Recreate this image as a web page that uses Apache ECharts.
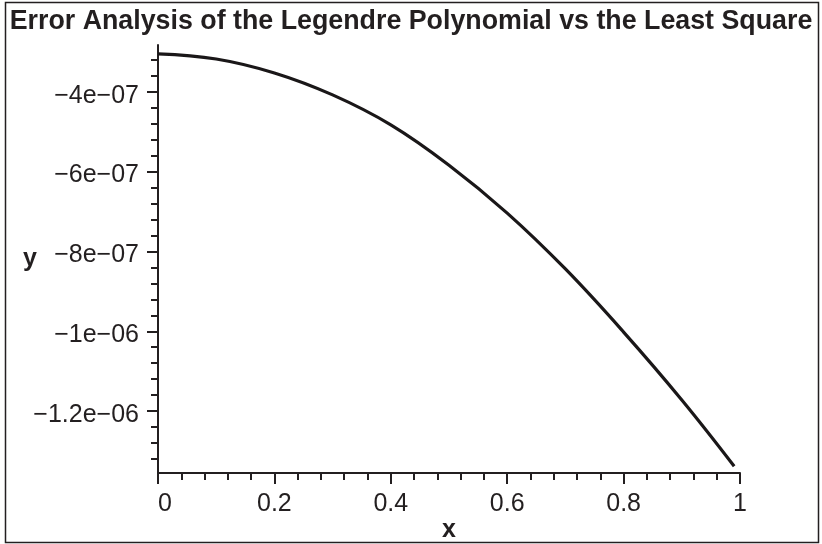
<!DOCTYPE html>
<html>
<head>
<meta charset="utf-8">
<title>Error Analysis of the Legendre Polynomial vs the Least Square</title>
<script src="https://cdn.jsdelivr.net/npm/echarts@6/dist/echarts.min.js"></script>
<style>
  html, body { margin: 0; padding: 0; background: #fff; }
  #chart { width: 822px; height: 544px; }
</style>
</head>
<body>
<div id="chart"></div>
<script>
// Error curve sampled over [0, 0.99]
const xValues = [0, 0.1, 0.2, 0.3, 0.4, 0.5, 0.6, 0.7, 0.8, 0.9, 0.99];
const errValues = [-3.05e-7, -3.18e-7, -3.53e-7, -4.08e-7, -4.83e-7, -5.84e-7,
                   -7.04e-7, -8.44e-7, -1.002e-6, -1.172e-6, -1.338e-6];

// Labelled y ticks and their printed form
const yTickValues = [-4e-7, -6e-7, -8e-7, -1e-6, -1.2e-6];
const yTickLabels = ['\u22124e\u221207', '\u22126e\u221207', '\u22128e\u221207', '\u22121e\u221206', '\u22121.2e\u221206'];
const xTickLabels = ['0', '0.2', '0.4', '0.6', '0.8', '1'];

const titleText = 'Error Analysis of the Legendre Polynomial vs the Least Square';

const ink = '#231f20';
const font = 'Liberation Sans, Arial, Helvetica, sans-serif';

const chart = echarts.init(document.getElementById('chart'), null, { renderer: 'canvas' });

chart.setOption({
  backgroundColor: '#fff',
  animation: false,
  title: {
    text: titleText,
    left: 'center',
    top: 3,
    textStyle: { fontFamily: font, fontWeight: 'bold', fontSize: 26.8, color: ink }
  },
  graphic: [{
    type: 'rect',
    silent: true,
    shape: { x: 5.5, y: 2.5, width: 813, height: 540 },
    style: { fill: null, stroke: ink, lineWidth: 1.5 }
  }],
  grid: { left: 158, right: 82, top: 45, bottom: 71, containLabel: false, outerBoundsMode: 'none' },
  xAxis: {
    type: 'value',
    min: 0,
    max: 1,
    interval: 0.2,
    name: 'x',
    nameLocation: 'middle',
    nameGap: 45,
    nameMoveOverlap: false,
    nameTextStyle: { fontFamily: font, fontWeight: 'bold', fontSize: 25, color: ink },
    axisLine: { onZero: false, lineStyle: { color: ink, width: 2 } },
    axisTick: { show: true, inside: false, length: 11, lineStyle: { color: ink, width: 2 } },
    minorTick: { show: true, splitNumber: 5, length: 7, lineStyle: { color: ink, width: 2 } },
    splitLine: { show: false },
    axisLabel: {
      margin: 19,
      fontFamily: font,
      fontSize: 25,
      color: ink,
      formatter: function (v) {
        const i = Math.round(v / 0.2);
        const s = xTickLabels[i] !== undefined ? xTickLabels[i] : String(v);
        return i === 0 ? '{z|' + s + '}' : s;
      },
      rich: { z: { fontFamily: font, fontSize: 25, color: ink, padding: [0, 0, 0, 14] } }
    }
  },
  yAxis: {
    type: 'value',
    min: -1.355e-6,
    max: -2.83e-7,
    splitNumber: 5,
    name: 'y',
    nameLocation: 'middle',
    nameRotate: 0,
    nameGap: 121,
    nameMoveOverlap: false,
    nameTextStyle: { fontFamily: font, fontWeight: 'bold', fontSize: 25, color: ink },
    axisLine: { onZero: false, lineStyle: { color: ink, width: 2 } },
    axisTick: { show: true, inside: false, length: 11, customValues: yTickValues, lineStyle: { color: ink, width: 2 } },
    minorTick: { show: true, splitNumber: 5, length: 7, lineStyle: { color: ink, width: 2 } },
    splitLine: { show: false },
    axisLabel: {
      margin: 19,
      fontFamily: font,
      fontSize: 25,
      color: ink,
      customValues: yTickValues,
      formatter: function (v) {
        let best = 0;
        for (let i = 1; i < yTickValues.length; i++) {
          if (Math.abs(yTickValues[i] - v) < Math.abs(yTickValues[best] - v)) best = i;
        }
        return '{t|' + yTickLabels[best] + '}';
      },
      rich: { t: { fontFamily: font, fontSize: 25, color: ink, padding: [8, 0, 0, 0] } }
    }
  },
  series: [{
    type: 'line',
    data: xValues.map((x, i) => [x, errValues[i]]),
    smooth: 0.4,
    showSymbol: false,
    lineStyle: { color: '#1a1718', width: 3.2 },
    clip: false
  }]
});
</script>
</body>
</html>
